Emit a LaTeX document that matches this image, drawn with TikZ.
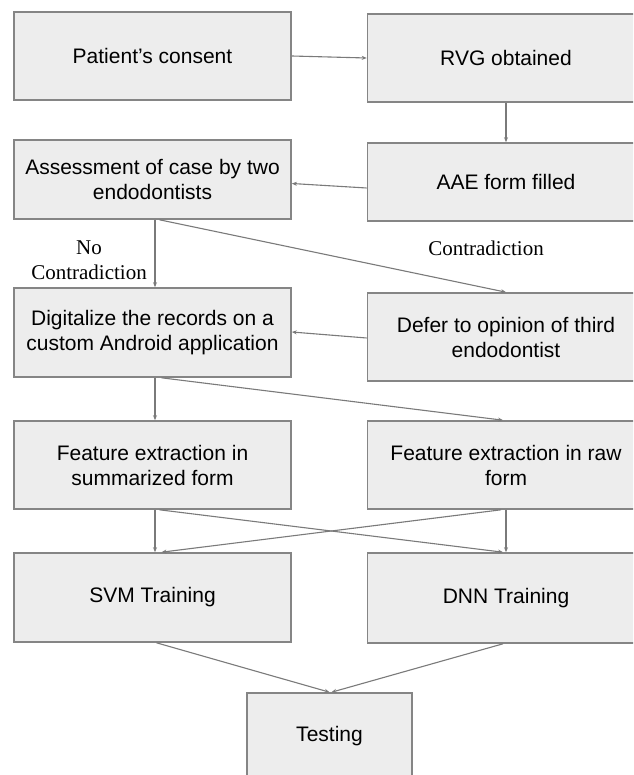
\documentclass[tikz,border=0pt]{standalone}
\usepackage{fontspec}
\setmainfont{Liberation Sans}
\newfontfamily\labelfont{Liberation Serif}
\usetikzlibrary{arrows.meta}
\definecolor{boxfill}{HTML}{EDEDED}
\definecolor{boxline}{HTML}{858585}
\definecolor{arrline}{HTML}{7A7A7A}

\begin{document}
\begin{tikzpicture}[x=1pt, y=-1pt,
    box/.style={draw=boxline, fill=boxfill, line width=1.6pt, minimum width=277pt,
        inner sep=0pt, align=center, font=\fontsize{21}{25}\selectfont},
    arr/.style={draw=arrline, line width=1.1pt, -{Stealth[length=5pt, width=4pt]}},
    lbl/.style={align=center, font=\labelfont\fontsize{21}{25}\selectfont}]
            \clip (0,0) rectangle (633,775);
            \fill[white] (0,0) rectangle (633,775);

            \node[box, minimum height=88pt] (consent) at (152.5,56) {Patient’s consent};
            \node[box, minimum height=88pt] (rvg) at (506,58) {RVG obtained};
            \node[box, minimum height=79pt] (assess) at (152.5,179.5) {Assessment of case by two\\endodontists};
            \node[box, minimum height=78pt] (aae) at (506,182) {AAE form filled};
            \node[box, minimum height=89pt] (digit) at (152.5,332.5) {Digitalize the records on a\\custom Android application};
            \node[box, minimum height=88pt] (defer) at (506,337) {Defer to opinion of third\\endodontist};
            \node[box, minimum height=88pt] (featsum) at (152.5,465) {Feature extraction in\\summarized form};
            \node[box, minimum height=88pt] (featraw) at (506,465) {Feature extraction in raw\\form};
            \node[box, minimum height=89pt] (svm) at (152.5,597.5) {SVM Training};
            \node[box, minimum height=90pt] (dnn) at (506,598) {DNN Training};
            \node[box, minimum width=165pt, minimum height=86pt] (test) at (329.5,736) {Testing};

            \node[lbl] (nocon) at (89,260) {No\\Contradiction};
            \node[lbl] (con) at (486,248) {Contradiction};

            \draw[arr] (consent.east) -- (rvg.west);
            \draw[arr] (rvg.south) -- (aae.north);
            \draw[arr] ([yshift=-6pt]aae.west) -- ([yshift=-4pt]assess.west -| assess.east);
            \draw[arr] ([xshift=2.5pt]assess.south) -- ([xshift=2.5pt]digit.north);
            \draw[arr] ([xshift=7pt]assess.south) -- (defer.north);
            \draw[arr] ([yshift=-1pt]defer.west) -- ([yshift=0.5pt]digit.east);
            \draw[arr] ([xshift=2.5pt]digit.south) -- ([xshift=2.5pt]featsum.north);
            \draw[arr] ([xshift=9pt]digit.south) -- ([xshift=-3pt]featraw.north);
            \draw[arr] ([xshift=2.5pt]featsum.south) -- ([xshift=2.5pt]svm.north);
            \draw[arr] ([xshift=7pt]featsum.south) -- ([xshift=-3pt]dnn.north);
            \draw[arr] (featraw.south) -- (dnn.north);
            \draw[arr] ([xshift=-5pt]featraw.south) -- ([xshift=9pt]svm.north);
            \draw[arr] ([xshift=4pt]svm.south) -- (test.north);
            \draw[arr] ([xshift=-3pt]dnn.south) -- ([xshift=2pt]test.north);
        \end{tikzpicture}
\end{document}
